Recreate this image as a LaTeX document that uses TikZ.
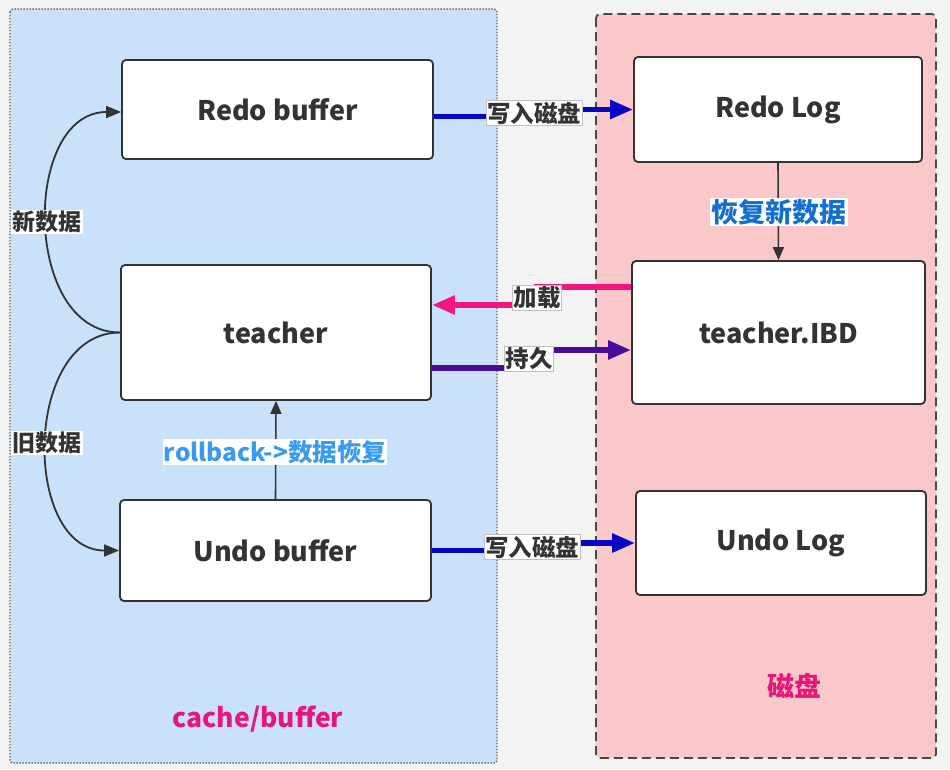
\documentclass[tikz,border=0pt]{standalone}
\usepackage{fontspec}
\setmainfont{Noto Sans CJK SC}
\usetikzlibrary{arrows.meta}
\definecolor{bgc}{HTML}{F3F3F3}
\definecolor{cachefill}{HTML}{C9E2F9}
\definecolor{diskfill}{HTML}{FAC8C8}
\definecolor{ink}{HTML}{333333}
\definecolor{wblue}{HTML}{0606C4}
\definecolor{lpink}{HTML}{F0177F}
\definecolor{ppurple}{HTML}{4A0A9A}
\definecolor{tblue}{HTML}{1470D0}
\definecolor{rblue}{HTML}{3A9AEE}
\definecolor{tpink}{HTML}{E8157A}
\begin{document}
\begin{tikzpicture}[x=1pt,y=-1pt,
  box/.style={draw=ink, line width=1.8pt, fill=white, rounded corners=4pt,
    font=\bfseries\fontsize{27}{30}\selectfont, text=ink},
  lbl/.style={fill=white, draw=gray!50, line width=0.5pt, inner sep=1.2pt,
    font=\bfseries\fontsize{23.5}{26}\selectfont, text=ink},
  plainlbl/.style={fill=white, inner sep=1.2pt, font=\bfseries\fontsize{23}{26}\selectfont, text=ink},
  thickarrow/.style={line width=5.5pt, -{Triangle[length=23pt,width=18pt]}},
  thinarrow/.style={draw=ink, line width=1.6pt, -{Triangle[length=13pt,width=11pt]}},
  curvearrow/.style={draw=ink, line width=1.8pt, -{Triangle[length=15pt,width=12pt]}}
]
\useasboundingbox (0,0) rectangle (950,769);
\fill[bgc] (0,0) rectangle (950,769);

% containers
\draw[fill=cachefill, draw=ink!80, line width=1.4pt, dash pattern=on 1.4pt off 1.6pt, rounded corners=3pt]
  (10,9) rectangle (497,763);
\draw[fill=diskfill, draw=ink!90, line width=1.8pt, dash pattern=on 9pt off 5pt, rounded corners=4pt]
  (596,14) rectangle (936,758);

% boxes
\node[box, minimum width=311pt, minimum height=99pt] (redob) at (277.5,109.5) {Redo buffer};
\node[box, minimum width=310pt, minimum height=135pt] (teacher) at (276,332.5) {teacher};
\node[box, minimum width=311pt, minimum height=101pt] (undob) at (275.5,550.5) {Undo buffer};
\node[box, minimum width=288pt, minimum height=105pt] (redolog) at (778,109.5) {Redo Log};
\node[box, minimum width=293pt, minimum height=143pt] (ibd) at (778.5,332.5) {teacher.IBD};
\node[box, minimum width=290pt, minimum height=104pt] (undolog) at (781,543) {Undo Log};

% write to disk (redo)
\draw[thickarrow, draw=wblue] ([yshift=-7pt]redob.east) -- (534,116.5) |- (redolog.west);
\node[lbl] (w1) at (534,113) {写入磁盘};

% write to disk (undo)
\draw[thickarrow, draw=wblue] (undob.east) -- (532,550.5) |- (undolog.west);
\node[lbl] (w2) at (532,547) {写入磁盘};

% load
\draw[thickarrow, draw=lpink] ([yshift=45.5pt]ibd.west) -- (537,287) |- ([yshift=27.5pt]teacher.east);
\node[lbl] (load) at (537,298) {加载};

% persist
\draw[thickarrow, draw=ppurple] ([yshift=-35.5pt]teacher.east) -- (529,368) |- ([yshift=-17.5pt]ibd.west);
\node[lbl] (persist) at (529,359) {持久};

% redo log -> ibd
\draw[thinarrow] (redolog.south) -- (ibd.north);
\node[plainlbl, text=tblue, font=\bfseries\fontsize{27}{30}\selectfont] (recnew) at (779,212) {恢复新数据};

% undo -> teacher
\draw[thinarrow] (undob.north) -- (teacher.south);
\node[plainlbl, text=rblue, font=\bfseries\fontsize{24.5}{27}\selectfont] (rb) at (275,452) {rollback->数据恢复};

% curves
\draw[curvearrow] (teacher.west) .. controls (22,332.5) and (22,112) .. ([yshift=-2.5pt]redob.west);
\draw[curvearrow] (teacher.west) .. controls (22,332.5) and (22,550.5) .. (undob.west);
\node[plainlbl] (newd) at (47,222) {新数据};
\node[plainlbl] (oldd) at (47,443) {旧数据};

% region captions
\node[text=tpink, font=\bfseries\fontsize{26.5}{29}\selectfont] (cap1) at (258,719) {cache/buffer};
\node[text=tpink, font=\bfseries\fontsize{27}{30}\selectfont] (cap2) at (794,686) {磁盘};
\end{tikzpicture}
\end{document}
